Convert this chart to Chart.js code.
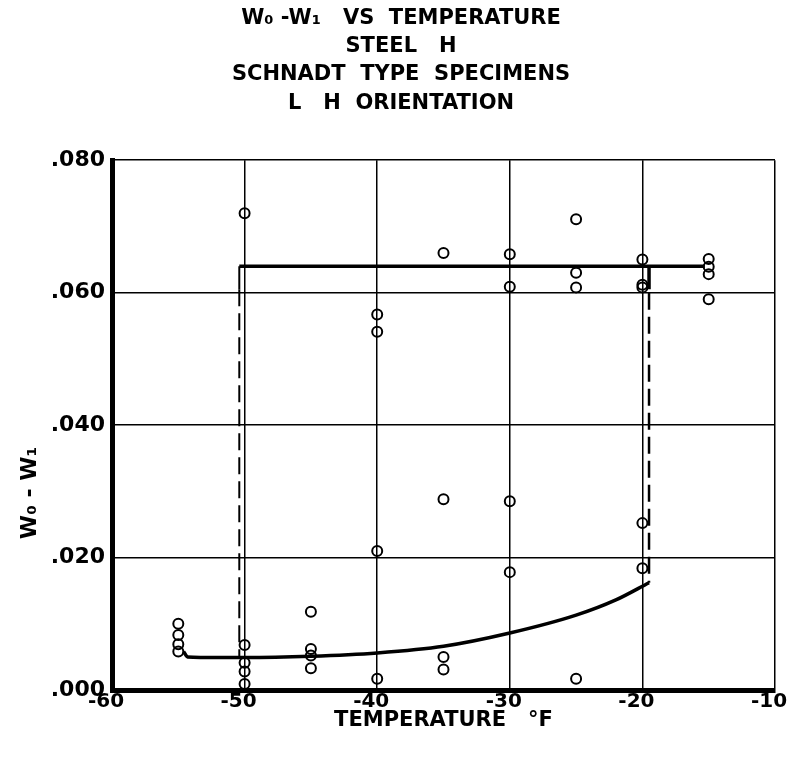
<!DOCTYPE html>
<html>
<head>
<meta charset="utf-8">
<script src="https://cdn.jsdelivr.net/npm/chart.js@4.4.1/dist/chart.umd.min.js"></script>
<style>
  html, body { margin: 0; padding: 0; background: #fff; }
  #wrap { width: 791px; height: 761px; }
</style>
</head>
<body>
<div id="wrap"><canvas id="c" width="791" height="761"></canvas></div>
<script>
// ---- data ----
const temperatures = [-55, -50, -45, -40, -35, -30, -25, -20, -15];
const valuesAtM55 = [0.0100, 0.0083, 0.0069, 0.0058];
const valuesAtM50 = [0.0720, 0.0068, 0.0041, 0.0028, 0.0009];
const valuesAtM45 = [0.0118, 0.0062, 0.0052, 0.0033];
const valuesAtM40 = [0.0567, 0.0541, 0.0210, 0.0017];
const valuesAtM35 = [0.0660, 0.0288, 0.0050, 0.0031];
const valuesAtM30 = [0.0658, 0.0609, 0.0285, 0.0178];
const valuesAtM25 = [0.0711, 0.0630, 0.0608, 0.0017];
const valuesAtM20 = [0.0650, 0.0612, 0.0608, 0.0252, 0.0184];
const valuesAtM15 = [0.0651, 0.0639, 0.0628, 0.0590];

// lower (brittle) curve
const lowerCurveTemps  = [-54.6, -54.3, -52, -50, -45, -40, -35, -30, -25, -22, -19.5];
const lowerCurveValues = [0.0058, 0.0050, 0.0049, 0.0049, 0.0051, 0.0056, 0.0066, 0.0086, 0.0113, 0.0136, 0.0162];
// upper (ductile) plateau
const upperTemps  = [-50.4, -15.3];
const upperValues = [0.064, 0.064];
// transition verticals
const leftTransTemps   = [-50.4, -50.4];
const leftSolidValues  = [0.064, 0.0605];
const leftDashValues   = [0.0605, 0.0050];
const rightTransTemps  = [-19.5, -19.5];
const rightSolidValues = [0.064, 0.0605];
const rightDashValues  = [0.0600, 0.0162];

// axis ticks
const xTickValues = [-60, -50, -40, -30, -20, -10];
const yTickValues = [0.000, 0.020, 0.040, 0.060, 0.080];

const titleLines = ['W\u2080 -W\u2081   VS  TEMPERATURE', 'STEEL   H', 'SCHNADT  TYPE  SPECIMENS', 'L   H  ORIENTATION'];
const xAxisTitle = 'TEMPERATURE   \u00B0F';
const yAxisTitle = 'W\u2080 - W\u2081';

// ---- build datasets ----
const groups = [valuesAtM55, valuesAtM50, valuesAtM45, valuesAtM40, valuesAtM35, valuesAtM30, valuesAtM25, valuesAtM20, valuesAtM15];
const specimenPoints = [];
groups.forEach((vals, i) => vals.forEach(v => specimenPoints.push({x: temperatures[i], y: v})));
const zip = (xs, ys) => xs.map((x, i) => ({x, y: ys[i]}));

const FONT = '"DejaVu Sans", sans-serif';
const lineDs = (label, data, width, dash, extra) => Object.assign({
  label, data, showLine: true, borderColor: '#000', borderWidth: width,
  borderDash: dash || [], pointRadius: 0, fill: false, tension: 0
}, extra || {});

const yTitlePlugin = {
  id: 'yTitle',
  afterDraw(chart) {
    const ctx = chart.ctx;
    ctx.save();
    ctx.translate(30, 493);
    ctx.rotate(-Math.PI / 2);
    ctx.font = 'bold 22px ' + FONT;
    ctx.fillStyle = '#000';
    ctx.textAlign = 'center';
    ctx.textBaseline = 'middle';
    ctx.fillText(yAxisTitle, 0, 0);
    ctx.restore();
  }
};

new Chart(document.getElementById('c'), {
  type: 'scatter',
  data: {
    datasets: [
      {
        label: 'Specimens', data: specimenPoints, showLine: false,
        pointStyle: 'circle', pointRadius: 5, pointBorderWidth: 2,
        pointBackgroundColor: 'rgba(0,0,0,0)', pointBorderColor: '#000'
      },
      lineDs('Lower curve', zip(lowerCurveTemps, lowerCurveValues), 3.5, null, {cubicInterpolationMode: 'monotone'}),
      lineDs('Upper plateau', zip(upperTemps, upperValues), 3.5),
      lineDs('Left solid', zip(leftTransTemps, leftSolidValues), 2),
      lineDs('Left dashed', zip(leftTransTemps, leftDashValues), 2, [17, 7]),
      lineDs('Right solid', zip(rightTransTemps, rightSolidValues), 3.5),
      lineDs('Right dashed', zip(rightTransTemps, rightDashValues), 2.5, [17, 7])
    ]
  },
  options: {
    responsive: false,
    animation: false,
    devicePixelRatio: 1,
    layout: { padding: { left: 11, right: 0, top: 4, bottom: 0 } },
    plugins: {
      legend: { display: false },
      tooltip: { enabled: false },
      title: {
        display: true,
        text: titleLines,
        color: '#000',
        font: { family: FONT, size: 21, weight: 'bold', lineHeight: 1.348 },
        padding: { top: 0, bottom: 43 }
      }
    },
    scales: {
      x: {
        type: 'linear', min: -60, max: -10,
        afterBuildTicks: s => { s.ticks = xTickValues.map(v => ({value: v})); },
        afterFit: s => { s.height = 71; s.paddingRight = 16; s.paddingLeft = 0; },
        grid: { color: '#000', lineWidth: 1.5, drawTicks: false },
        border: { color: '#000', width: 5 },
        ticks: {
          color: '#000', padding: 0, labelOffset: -6, maxRotation: 0,
          font: { family: FONT, size: 20, weight: 'bold' },
          callback: v => String(v)
        },
        title: {
          display: true, text: xAxisTitle, color: '#000',
          font: { family: FONT, size: 21, weight: 'bold', lineHeight: 1.2 },
          padding: { top: 0, bottom: 28 }
        }
      },
      y: {
        type: 'linear', min: 0, max: 0.08,
        afterBuildTicks: s => { s.ticks = yTickValues.map(v => ({value: v})); },
        afterFit: s => { s.width = 101; },
        grid: { color: '#000', lineWidth: 1.5, drawTicks: false },
        border: { color: '#000', width: 5 },
        ticks: {
          color: '#000', padding: 7,
          font: { family: FONT, size: 22, weight: 'bold' },
          callback: v => Number(v).toFixed(3).replace(/^0/, '')
        }
      }
    }
  },
  plugins: [yTitlePlugin]
});
</script>
</body>
</html>
